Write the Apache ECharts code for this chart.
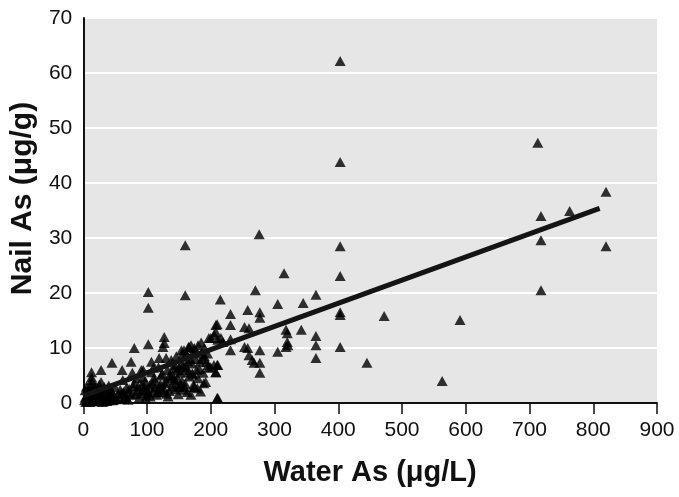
<!DOCTYPE html>
<html>
<head>
<meta charset="utf-8">
<script src="https://cdn.jsdelivr.net/npm/echarts@6/dist/echarts.min.js"></script>
<style>html,body{margin:0;padding:0;background:#fff}#c{width:679px;height:497px}</style>
</head>
<body>
<div id="c"></div>
<script>
// Water As (µg/L) and Nail As (µg/g), paired by index
const waterAs = [
  403,403,403,403,403,403,403,
  713,718,718,718,763,820,820,
  591,563,472,445,
  365,365,365,365,
  315,276,160,160,102,102,215,210,
  270,305,345,258,277,277,231,231,210,253,260,208,200,211,219,231,231,253,258,277,260,265,268,277,277,305,318,320,321,318,320,342,
  210,208,197,174,
  127,127,125,102,80,165,169,174,154,45,28,13,13,13,75,107,119,130,61,77,91,94,110,107,138,143,154,160,165,196,205,208,138,150,60,71,28,80,96,102,118,127,94,
  208,205,216,197,158,166,174,200,211,143,158,174,211,
  2,5,8,10,12,15,18,20,22,25,28,30,33,35,38,40,42,45,48,50,5,3,15,25,35,52,55,58,65,68,70,75,78,85,88,92,98,100,105,108,112,115,120,125,130,133,140,145,148,152,155,160,162,166,170,172,176,178,180,183,185,188,190,192,122,118,132,136,146,150,156,162,168,177,180,185,190,195,
  6,10,18,22,30,40,4,14,26,36,46,
  3,7,11,16,20,24,29,33,37,41,44,47,9,17,27,32,39,21,12,43,
  57,63,67,72,82,86,90,95,99,104,109,113,117,121,126,131,135,139,144,149,153,158,163,169,173,179,184,189,
  62,84,97,111,124,137,147,157,171,182,193,187,164,142
];
const nailAs = [
  62.2,43.8,28.5,23.1,16.5,16.0,10.2,
  47.3,34.0,29.6,20.5,34.9,38.4,28.5,
  15.1,4.0,15.8,7.3,
  19.7,12.2,10.5,8.2,
  23.6,30.7,28.7,19.6,20.2,17.3,18.8,0.9,
  20.5,18.0,18.2,16.9,16.5,15.5,16.2,14.2,14.3,13.8,13.6,12.9,11.8,11.5,11.1,11.6,9.6,10.2,10.0,9.6,8.7,7.8,7.3,7.3,5.5,9.3,10.2,11.1,10.5,13.3,12.7,13.3,
  6.9,5.6,6.4,2.9,
  12.0,10.9,10.2,10.7,10.0,10.2,10.5,10.0,9.6,7.3,6.0,5.6,4.7,4.2,7.5,7.5,8.2,8.2,6.0,5.5,6.0,6.0,6.4,5.6,7.8,6.9,7.0,6.0,5.6,6.9,6.9,5.6,4.5,2.9,1.8,1.8,3.8,3.6,2.9,1.8,2.4,3.6,4.7,
  14.2,12.4,11.8,11.8,9.6,10.2,9.6,6.5,6.9,4.2,2.9,2.9,0.9,
  0.5,1.2,2.0,0.8,1.5,2.5,1.0,3.0,0.5,1.8,2.6,1.2,0.6,2.2,1.5,3.2,0.9,2.0,1.3,2.8,3.0,2.3,0.4,3.3,0.9,0.7,1.6,2.4,1.0,2.8,0.6,1.5,3.0,2.2,1.0,3.3,0.8,2.5,1.2,3.5,4.0,1.5,3.0,2.0,3.8,1.2,5.0,3.5,4.5,5.5,4.0,3.5,6.5,4.8,7.2,5.2,8.0,6.0,4.5,7.5,9.0,5.5,8.5,3.8,5.0,6.5,6.0,5.2,8.5,6.5,8.8,9.0,8.0,9.5,10.5,11.0,10.0,9.0,
  0.3,0.2,0.4,0.3,0.2,0.5,0.2,0.3,0.6,0.4,0.5,
  1.0,0.4,2.8,1.9,0.7,2.4,1.7,2.9,0.4,2.1,1.1,0.6,1.4,3.1,1.4,0.3,2.7,2.1,3.4,1.7,
  0.9,2.0,1.2,2.6,1.6,3.0,1.8,2.3,1.4,3.2,2.1,2.8,1.9,3.4,2.6,1.7,2.2,3.0,2.5,1.6,3.1,2.4,2.0,1.5,3.3,2.7,2.1,3.6,
  4.2,4.5,3.9,4.6,5.3,4.8,5.9,6.8,5.4,6.2,7.4,8.0,7.6,6.3
];
// Regression line end points (x, y)
const fitX = [0, 810];
const fitY = [1.3, 35.4];
const xTicks = [0,100,200,300,400,500,600,700,800,900];
const yTicks = [0,10,20,30,40,50,60,70];

const points = waterAs.map((x, i) => [x, nailAs[i]]);
const fitLine = fitX.map((x, i) => [x, fitY[i]]);

const FONT = '"Liberation Sans", Arial, sans-serif';
const chart = echarts.init(document.getElementById('c'), null, {renderer: 'canvas'});
chart.setOption({
  animation: false,
  backgroundColor: '#ffffff',
  grid: {left: 83, right: 22, top: 18, bottom: 94, show: true, backgroundColor: '#e6e6e7', borderWidth: 0},
  xAxis: {
    type: 'value', min: xTicks[0], max: xTicks[xTicks.length - 1], interval: 100,
    name: 'Water As (\u03bcg/L)', nameLocation: 'middle', nameGap: 55,
    nameTextStyle: {fontFamily: FONT, fontWeight: 'bold', fontSize: 29, color: '#111111'},
    axisLine: {show: true, onZero: false, lineStyle: {color: '#111111', width: 2}},
    axisTick: {show: true, inside: false, length: 11, lineStyle: {color: '#111111', width: 1.5}},
    axisLabel: {fontFamily: FONT, fontSize: 21, color: '#111111', margin: 17},
    splitLine: {show: false}
  },
  yAxis: {
    type: 'value', min: yTicks[0], max: yTicks[yTicks.length - 1], interval: 10,
    name: 'Nail As (\u03bcg/g)', nameLocation: 'middle', nameGap: 37,
    nameTextStyle: {fontFamily: FONT, fontWeight: 'bold', fontSize: 30, color: '#111111', padding: [0, 0, 0, 24]},
    axisLine: {show: true, onZero: false, lineStyle: {color: '#111111', width: 2}},
    axisTick: {show: false},
    axisLabel: {fontFamily: FONT, fontSize: 21, color: '#111111', margin: 11},
    splitLine: {show: true, lineStyle: {color: '#ffffff', width: 2}}
  },
  series: [
    {
      type: 'scatter', data: points, symbol: 'triangle', symbolSize: [11, 10],
      itemStyle: {color: '#000000'}, z: 2
    },
    {
      type: 'line', data: fitLine, symbol: 'none', silent: true,
      lineStyle: {color: '#141414', width: 5}, z: 3
    }
  ]
});
</script>
</body>
</html>
